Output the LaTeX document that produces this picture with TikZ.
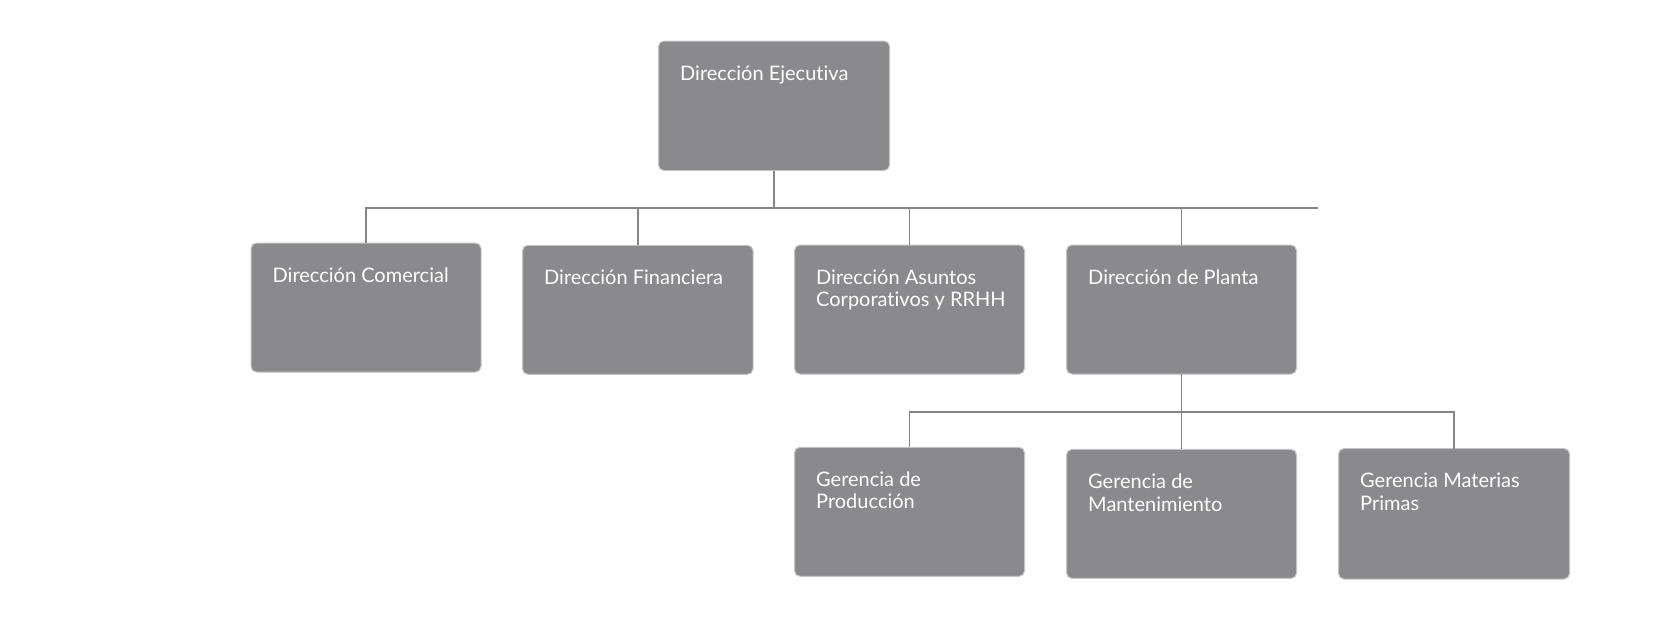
\documentclass[tikz,border=0pt]{standalone}
\usepackage{fontspec}
\setmainfont{Lato}[Ligatures={NoCommon,NoRare}]
\definecolor{boxfill}{HTML}{8A8A8C}
\definecolor{boxline}{HTML}{C4C4C6}
\definecolor{conn}{HTML}{858585}
% #7 = baseline offset of the last text line from the box top
\newcommand{\obox}[7]{%
  \draw[orgbox] (#2,#3) rectangle (#4,#5);%
  \coordinate (#1-n) at ({(#2+#4)/2},#3);%
  \coordinate (#1-s) at ({(#2+#4)/2},#5);%
  \node[lbl] (#1-t) at ({#2+21.5},{#3+#7}) {#6};}
\begin{document}
\begin{tikzpicture}[x=1pt,y=-1pt,
  orgbox/.style={draw=boxline,line width=1pt,fill=boxfill,rounded corners=5.5pt},
  lbl/.style={anchor=base west,inner sep=0pt,text=white,align=left,font=\fontsize{20}{22.3}\selectfont},
  conline/.style={draw=conn,line width=1.8pt}]
\useasboundingbox (0,0) rectangle (1658,640);
\obox{eje}{658.5}{41}{889.5}{170.5}{Dirección Ejecutiva}{39.3}
\obox{com}{251}{243}{481}{372}{Dirección Comercial}{39.3}
\obox{fin}{522.5}{245.3}{753}{374.3}{Dirección Financiera}{39.3}
\obox{asu}{794.5}{245}{1024.5}{374}{Dirección Asuntos\\Corporativos y RRHH}{61.6}
\obox{pla}{1066.5}{245}{1296.5}{374}{Dirección de Planta}{39.3}
\obox{pro}{794.5}{447.3}{1024.5}{576.3}{Gerencia de\\Producción}{61.6}
\obox{man}{1066.5}{449.4}{1296.5}{578.4}{Gerencia de\\Mantenimiento}{61.6}
\obox{mat}{1338.5}{448.5}{1569.5}{579}{Gerencia Materias\\Primas}{61.6}
\coordinate (bus1) at (774,207.7);
\coordinate (bus1e) at (1317.7,207.7);
\draw[conline] (eje-s) -- (bus1);
\draw[conline] (com-n) |- (bus1e);
\draw[conline] (fin-n) -- (fin-n |- bus1);
\draw[conline] (asu-n) -- (asu-n |- bus1);
\draw[conline] (pla-n) -- (pla-n |- bus1);
\coordinate (bus2) at (1181.5,411.7);
\draw[conline] (pla-s) -- (bus2);
\draw[conline] (pro-n) |- (bus2) -| (mat-n);
\draw[conline] (man-n) -- (man-n |- bus2);
\end{tikzpicture}
\end{document}
